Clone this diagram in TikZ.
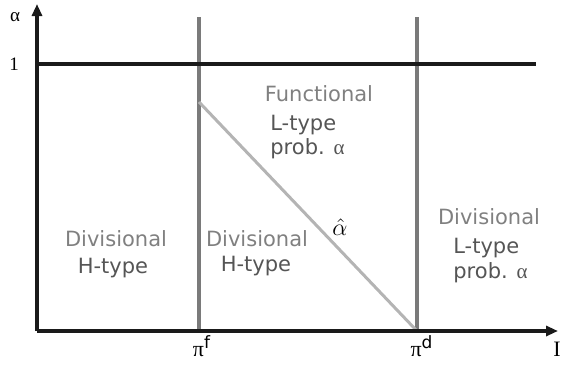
\documentclass[tikz,border=0pt]{standalone}
\usepackage{fontspec}
\setmainfont{DejaVu Sans}
\newfontfamily\serifA{Liberation Serif}
\newfontfamily\sansA{DejaVu Sans}
\usetikzlibrary{arrows.meta}
\definecolor{lightg}{HTML}{808080}
\definecolor{darkg}{HTML}{555555}
\definecolor{vline}{HTML}{7A7A7A}
\definecolor{diag}{HTML}{B4B4B4}
\definecolor{axis}{HTML}{1A1A1A}
\tikzset{
  axisline/.style={draw=axis, line width=2pt},
  arrowtip/.style={-{Triangle[length=6pt,width=5pt]}},
  top/.style={font=\fontsize{10.5}{12}\selectfont, text=lightg, inner sep=0pt},
  sub/.style={font=\fontsize{10.5}{12}\selectfont, text=darkg, inner sep=0pt, align=left},
  axlab/.style={font=\serifA\fontsize{9.5}{11}\selectfont, text=black, inner sep=0pt},
  pilab/.style={font=\serifA\fontsize{11}{12}\selectfont, text=black, inner sep=0pt},
}
\begin{document}
\begin{tikzpicture}[x=0.5pt,y=-0.5pt]
\useasboundingbox (0,0) rectangle (561,364);
\clip (0,0) rectangle (561,364);
% coordinates
\coordinate (O) at (37,331);
\coordinate (ytop) at (37,4);
\coordinate (xend) at (558,331);
\coordinate (h1) at (37,64);
\coordinate (h2) at (536,64);
\coordinate (ft) at (199,17);
\coordinate (fb) at (199,331);
\coordinate (dt) at (417,17);
\coordinate (db) at (417,331);
\coordinate (ds) at (199,102);
% lines
\draw[draw=vline, line width=1.8pt] (ft) -- (fb);
\draw[draw=vline, line width=1.8pt] (dt) -- (db);
\draw[draw=diag, line width=1.5pt] (ds) -- (db);
\draw[draw=axis, line width=1.8pt] (h1) -- (h2);
\draw[axisline, arrowtip] (O) -- (ytop);
\draw[axisline, arrowtip] (O) -- (xend);
% axis labels
\node[axlab] (alab) at (15,17) {α};
\node[axlab] (one) at (14,64) {1};
\node[pilab, anchor=base] (pif) at (202,356) {π\textsuperscript{\sansA\fontsize{8.5}{10}\selectfont f}};
\node[pilab, anchor=base] (pid) at (422,356) {π\textsuperscript{\sansA\fontsize{8.5}{10}\selectfont d}};
\node[pilab, anchor=base west] (ilab) at (553,356) {I};
% region texts
\node[top] (fun) at (319,94) {Functional};
\node[sub, anchor=west] (fl) at (270,125) {L-type};
\node[sub, anchor=west] (fp) at (270,149) {prob. {\serifA α}};
\node[top] (d1) at (116,239) {Divisional};
\node[sub] (h1t) at (113,268) {H-type};
\node[top] (d2) at (257,239) {Divisional};
\node[sub] (h2t) at (256,266) {H-type};
\node[top] (d3) at (489,217) {Divisional};
\node[sub, anchor=west] (d3l) at (453,248) {L-type};
\node[sub, anchor=west] (d3p) at (453,273) {prob. {\serifA α}};
\node[inner sep=0pt, font=\fontsize{12}{14}\selectfont] (ahat) at (340,227) {$\hat{\alpha}$};
\end{tikzpicture}
\end{document}
